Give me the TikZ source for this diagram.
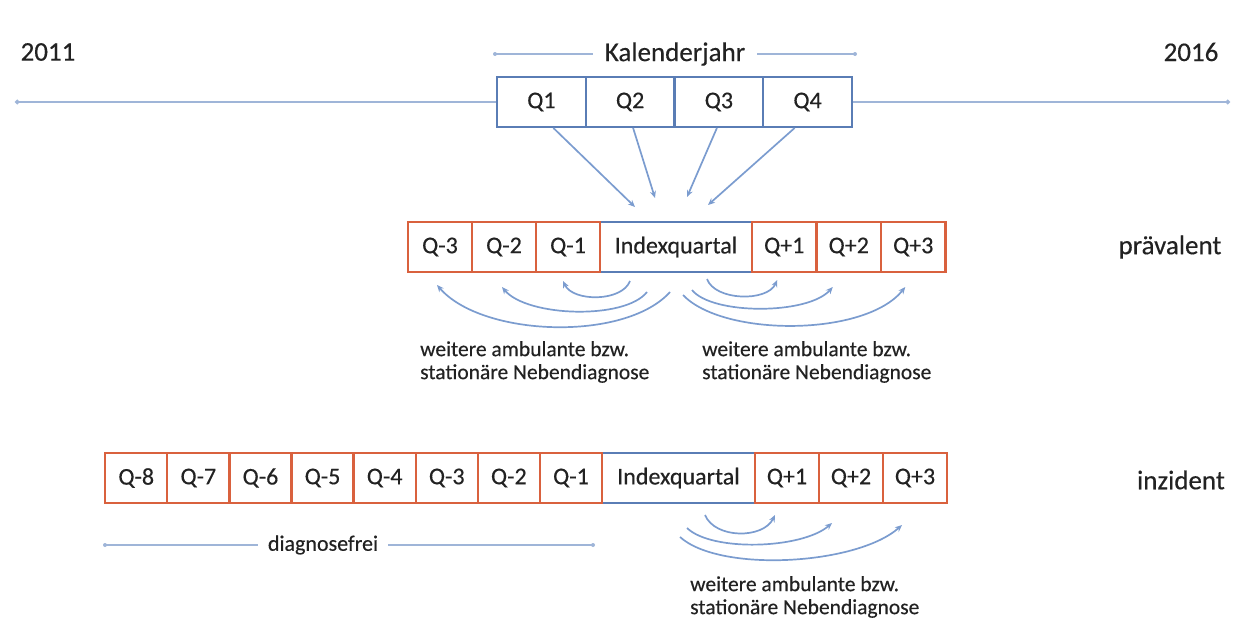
\documentclass[tikz,border=0pt]{standalone}
\usepackage{fontspec}
\setmainfont{Carlito}[FakeBold=0.35]
\usetikzlibrary{arrows.meta,calc}

\definecolor{boxblue}{HTML}{5A7DB5}
\definecolor{boxorange}{HTML}{D9613E}
\definecolor{arrowblue}{HTML}{7B9CCF}
\definecolor{lineblue}{HTML}{9FB5D8}
\definecolor{txt}{HTML}{222222}

\tikzset{
  cell/.style={draw, fill=white, line width=2.3pt, minimum height=50pt,
    inner sep=0pt, outer sep=0pt, text=txt, font=\fontsize{24}{28}\selectfont},
  bluecell/.style={cell, draw=boxblue},
  redcell/.style={cell, draw=boxorange},
  tag/.style={text=txt, font=\fontsize{27}{32}\selectfont, inner sep=0pt},
  note/.style={text=txt, font=\fontsize{21.5}{23}\selectfont, align=left, inner sep=0pt, anchor=west},
  feed/.style={draw=arrowblue, line width=1.7pt, -{Stealth[length=7pt,width=6pt]}},
  rangeline/.style={draw=lineblue, line width=2.2pt, {Circle[length=4.5pt]}-{Circle[length=4.5pt]}},
}

\begin{document}
\begin{tikzpicture}[x=1pt,y=-1pt]
\useasboundingbox (0,0) rectangle (1233,635);

% ---------- time axis ----------
\coordinate (axL) at (15,102);
\coordinate (axR) at (1230,102);
\draw[rangeline] (axL) -- (axR);
\node[tag] (y2011) at (48,52) {2011};
\node[tag] (y2016) at (1191,52) {2016};

% ---------- calendar year ----------
\node[tag, inner xsep=12pt] (kal) at (675,54) {Kalenderjahr};
\coordinate (kalL) at (495,54);
\coordinate (kalR) at (855,54);
\draw[rangeline, -] (kalL) -- (kal.west);
\draw[rangeline, -] (kal.east) -- (kalR);
\fill[lineblue] (kalL) circle (2pt) (kalR) circle (2pt);

\node[bluecell, minimum width=88.75pt] (q1) at (541.4,102) {Q1};
\node[bluecell, minimum width=88.75pt] (q2) at (630.1,102) {Q2};
\node[bluecell, minimum width=88.75pt] (q3) at (718.9,102) {Q3};
\node[bluecell, minimum width=88.75pt] (q4) at (807.6,102) {Q4};

% ---------- prevalent row ----------
\node[bluecell, minimum width=152pt] (idxA) at (676,247) {Indexquartal};
\node[redcell, minimum width=64pt] (pm1) at (568,247) {Q-1};
\node[redcell, minimum width=64pt] (pm2) at (504,247) {Q-2};
\node[redcell, minimum width=64pt] (pm3) at (440,247) {Q-3};
\node[redcell, minimum width=64.5pt] (pp1) at (784.25,247) {Q+1};
\node[redcell, minimum width=64.5pt] (pp2) at (848.75,247) {Q+2};
\node[redcell, minimum width=64.5pt] (pp3) at (913.25,247) {Q+3};
\node[tag] (prev) at (1170,247) {prävalent};

% quarters of the calendar year feed the index quarter
\draw[feed] ($(q1.south)+(12,1)$) -- ($(idxA.north)+(-41,-15)$);
\draw[feed] ($(q2.south)+(3,1)$)  -- ($(idxA.north)+(-21,-24)$);
\draw[feed] ($(q3.south)+(-2,1)$) -- ($(idxA.north)+(11,-25)$);
\draw[feed] ($(q4.south)+(-13,1)$) -- ($(idxA.north)+(32,-17)$);

% further diagnoses before the index quarter
\coordinate (la1) at ($(idxA.south)+(-46,9)$);
\coordinate (la2) at ($(idxA.south)+(-29,20)$);
\coordinate (la3) at ($(idxA.south)+(-6,20)$);
\draw[feed] (la1) .. controls +(-8,21) and +(10,21) .. ($(pm1.south)+(-5,9)$);
\draw[feed] (la2) .. controls +(-22,28) and +(25,30) .. ($(pm2.south)+(-2,15)$);
\draw[feed] (la3) .. controls +(-45,50) and +(45,52) .. ($(pm3.south)+(-3,13)$);

% further diagnoses after the index quarter
\coordinate (ra1) at ($(idxA.south)+(31,7)$);
\coordinate (ra2) at ($(idxA.south)+(16,18)$);
\coordinate (ra3) at ($(idxA.south)+(7,23)$);
\draw[feed] (ra1) .. controls +(8,22) and +(-10,22) .. ($(pp1.south)+(-7,8)$);
\draw[feed] (ra2) .. controls +(20,25) and +(-25,28) .. ($(pp2.south)+(-16,15)$);
\draw[feed] (ra3) .. controls +(40,42) and +(-40,50) .. ($(pp3.south)+(-8,15)$);

\node[note] (noteL) at (420,362) {weitere ambulante bzw.\\stationäre Nebendiagnose};
\node[note] (noteR) at (702,362) {weitere ambulante bzw.\\stationäre Nebendiagnose};

% ---------- incident row ----------
\node[bluecell, minimum width=153pt] (idxB) at (678.5,478) {Indexquartal};
\node[redcell, minimum width=62.1pt] (im1) at (570.95,478) {Q-1};
\node[redcell, minimum width=62.1pt] (im2) at (508.85,478) {Q-2};
\node[redcell, minimum width=62.1pt] (im3) at (446.75,478) {Q-3};
\node[redcell, minimum width=62.1pt] (im4) at (384.65,478) {Q-4};
\node[redcell, minimum width=62.1pt] (im5) at (322.55,478) {Q-5};
\node[redcell, minimum width=62.1pt] (im6) at (260.45,478) {Q-6};
\node[redcell, minimum width=62.1pt] (im7) at (198.35,478) {Q-7};
\node[redcell, minimum width=62.1pt] (im8) at (136.25,478) {Q-8};
\node[redcell, minimum width=64pt] (ip1) at (787,478) {Q+1};
\node[redcell, minimum width=64pt] (ip2) at (851,478) {Q+2};
\node[redcell, minimum width=64pt] (ip3) at (915,478) {Q+3};
\node[tag] (inz) at (1181,480) {inzident};

% diagnosis-free look-back period
\node[tag, font=\fontsize{22}{26}\selectfont, inner xsep=10pt] (free) at (323,545) {diagnosefrei};
\coordinate (freeL) at (105,545);
\coordinate (freeR) at (593,545);
\draw[rangeline, -] (freeL) -- (free.west);
\draw[rangeline, -] (free.east) -- (freeR);
\fill[lineblue] (freeL) circle (2pt) (freeR) circle (2pt);

\coordinate (ia1) at ($(idxB.south)+(26.5,12)$);
\coordinate (ia2) at ($(idxB.south)+(8.5,25)$);
\coordinate (ia3) at ($(idxB.south)+(1.5,34)$);
\draw[feed] (ia1) .. controls +(10,24) and +(-12,24) .. ($(ip1.south)+(-12,12)$);
\draw[feed] (ia2) .. controls +(25,24) and +(-30,26) .. ($(ip2.south)+(-19,20)$);
\draw[feed] (ia3) .. controls +(40,36) and +(-45,40) .. ($(ip3.south)+(-13,22)$);

\node[note] (noteI) at (690,597) {weitere ambulante bzw.\\stationäre Nebendiagnose};
\end{tikzpicture}
\end{document}
